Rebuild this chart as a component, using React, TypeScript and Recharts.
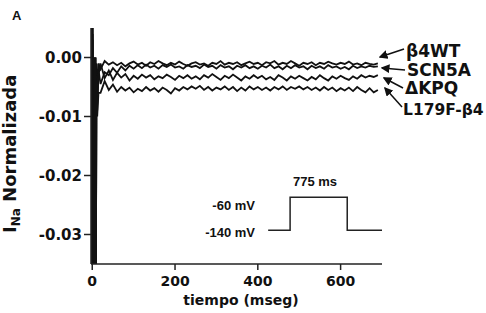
import { Line, LineChart, XAxis, YAxis } from 'recharts';

// sample times in ms (dense around the capacitive transient)
const times = [
  -3, -2, -1, 0, 1, 2, 3, 4, 5, 6, 7, 8, 9, 10, 12, 15,
  20, 30, 40, 50, 60, 70, 80, 90, 100, 110, 120, 130, 140, 150, 160, 170, 180, 190,
  200, 210, 220, 230, 240, 250, 260, 270, 280, 290, 300, 310, 320, 330, 340, 350,
  360, 370, 380, 390, 400, 410, 420, 430, 440, 450, 460, 470, 480, 490, 500, 510,
  520, 530, 540, 550, 560, 570, 580, 590, 600, 610, 620, 630, 640, 650, 660, 670,
  680, 690
];

// normalised current, in units of 1e-3
const beta4WT = [
  5, -36, 5, -36, 5, -36, -36, -36, -36, 0, -36, 0, -36, -1, -9, -1,
  -2.0, -0.6, -1.2, -0.8, -1.3, -0.9, -1.5, -1.0, -0.7, -1.2, -0.9, -1.4, -0.8, -1.1, -0.6, -1.0, -1.3, -0.9,
  -1.2, -0.7, -1.1, -1.4, -1.0, -0.8, -1.2, -1.0, -1.4, -0.9, -1.1, -0.6, -1.2, -0.9, -1.1, -0.8,
  -1.3, -1.0, -0.7, -1.1, -0.9, -1.3, -0.8, -1.0, -0.6, -1.2, -0.9, -1.1, -0.6, -1.0, -1.4, -0.9,
  -1.1, -0.8, -1.3, -0.9, -1.1, -0.7, -1.0, -1.2, -0.9, -1.1, -0.7, -1.2, -1.0, -1.3, -0.9, -1.1,
  -1.2, -1.0
];
const scn5a = [
  5, -36, 4, -36, 5, -36, -36, -36, -36, 0, -36, -1, -36, -2, -8, -2,
  -4.5, -2.5, -3.0, -1.8, -2.6, -1.5, -2.2, -1.4, -1.9, -1.3, -1.8, -1.2, -1.7, -1.4, -1.9, -1.3, -1.6, -1.2,
  -1.7, -1.5, -1.9, -1.3, -1.6, -1.4, -1.8, -1.2, -1.6, -1.4, -1.9, -1.3, -1.7, -1.5, -2.0, -1.4,
  -1.7, -1.3, -1.8, -1.5, -1.9, -1.4, -1.7, -1.2, -1.8, -1.5, -2.0, -1.4, -1.8, -1.3, -1.7, -1.5,
  -2.0, -1.4, -1.8, -1.5, -1.9, -1.3, -1.7, -1.5, -1.9, -1.6, -2.0, -1.4, -1.8, -1.5, -1.7, -1.4,
  -1.6, -1.5
];
const deltaKPQ = [
  4, -36, 5, -36, 4, -36, -36, -36, -36, -1, -36, 0, -36, -3, -7, -3,
  -1.0, -3.5, -2.2, -3.8, -2.6, -3.4, -2.8, -3.9, -3.1, -3.6, -2.9, -3.4, -3.0, -3.7, -3.2, -3.5, -2.9, -3.3,
  -3.8, -3.1, -3.5, -3.0, -3.6, -3.2, -3.7, -3.0, -3.4, -2.8, -3.3, -3.8, -3.1, -3.5, -2.9, -3.4,
  -3.9, -3.2, -3.6, -3.0, -3.5, -3.1, -3.7, -3.3, -3.8, -3.0, -3.4, -3.9, -3.2, -3.6, -3.1, -3.5,
  -3.9, -3.3, -3.7, -3.0, -3.5, -3.9, -3.2, -3.6, -3.1, -3.5, -3.8, -3.2, -3.6, -3.0, -3.4, -3.1,
  -3.3, -3.0
];
const l179f = [
  5, -36, 5, -36, 3, -36, -36, -36, -36, 0, -36, -1, -36, -4, -10, -6,
  -6.0, -4.0, -5.5, -4.6, -5.8, -5.0, -5.6, -5.1, -5.9, -5.3, -5.7, -5.0, -5.6, -5.2, -5.8, -5.1, -5.5, -6.1,
  -5.2, -5.6, -5.0, -5.4, -4.9, -5.3, -4.8, -5.5, -5.0, -5.6, -5.1, -5.4, -4.9, -5.5, -5.0, -5.7,
  -5.1, -5.6, -4.9, -5.4, -5.0, -5.5, -5.1, -5.6, -5.0, -5.4, -4.9, -5.5, -5.0, -5.3, -4.9, -5.4,
  -5.0, -5.5, -5.1, -5.6, -5.0, -5.5, -5.1, -5.7, -5.2, -5.6, -5.1, -5.7, -5.0, -5.5, -5.9, -5.2,
  -5.9, -5.5
];

const traceNames = ['β4WT', 'SCN5A', 'ΔKPQ', 'L179F-β4'];

// voltage protocol shown in the inset
const protocolTimes = [425, 478, 478, 616, 616, 700];
const protocolMv = [-140, -140, -60, -60, -140, -140];

const xTicks = [0, 200, 400, 600];
const yTicks = [0, -0.01, -0.02, -0.03];

const table = times.map((t, i) => ({
  t,
  wt: beta4WT[i] / 1000,
  scn5a: scn5a[i] / 1000,
  kpq: deltaKPQ[i] / 1000,
  l179f: l179f[i] / 1000
}));
const protocol = protocolTimes.map((t, i) => ({ t, mv: protocolMv[i] }));

const bold = { fontFamily: 'DejaVu Sans', fontWeight: 'bold' as const };
const insetFont = { fontFamily: 'Liberation Sans', fontWeight: 'bold' as const, fontSize: 13 };

export default function App() {
  const series = ['wt', 'scn5a', 'kpq', 'l179f'];
  return (
    <div style={{ position: 'absolute', left: 0, top: 0, width: 486, height: 313, background: '#fff' }}>
      <LineChart
        width={486}
        height={313}
        data={table}
        margin={{ top: 28, right: 104, bottom: 0, left: 0 }}
      >
        <XAxis
          dataKey="t"
          type="number"
          domain={[-3, 700]}
          ticks={xTicks}
          allowDataOverflow
          height={49}
          tickSize={6}
          tickMargin={6}
          stroke="#222"
          strokeWidth={1.5}
          tick={{ ...bold, fontSize: 14, fill: '#111' }}
        />
        <YAxis
          domain={[-0.035, 0.005]}
          ticks={yTicks}
          allowDataOverflow
          width={91}
          tickSize={7}
          tickMargin={2}
          stroke="#222"
          strokeWidth={1.5}
          tickFormatter={v => v.toFixed(2)}
          tick={{ ...bold, fontSize: 15, fill: '#111' }}
        />
        <YAxis yAxisId="mv" hide domain={[-222, 350]} />
        {series.map(key => (
          <Line
            key={key}
            dataKey={key}
            type="linear"
            stroke="#111"
            strokeWidth={1.8}
            dot={false}
            isAnimationActive={false}
          />
        ))}
        <Line
          data={protocol}
          dataKey="mv"
          yAxisId="mv"
          type="linear"
          stroke="#222"
          strokeWidth={1.5}
          dot={false}
          isAnimationActive={false}
        />
      </LineChart>
      <svg
        width={486}
        height={313}
        style={{ position: 'absolute', left: 0, top: 0, pointerEvents: 'none' }}
      >
        <defs>
          <marker id="tip" markerWidth="6" markerHeight="6" refX="5" refY="3" orient="auto">
            <path d="M0,0 L6,3 L0,6 z" fill="#111" />
          </marker>
        </defs>
        <text x={12} y={20} fontFamily="Liberation Sans" fontWeight="bold" fontSize={13} fill="#111">A</text>
        <text
          x={16}
          y={233}
          transform="rotate(-90, 16, 233)"
          {...bold}
          fontSize={18}
          fill="#111"
        >
          I<tspan fontSize={12} dy={4}>Na</tspan>
          <tspan dy={-4}> Normalizada</tspan>
        </text>
        <text x={241} y={305} textAnchor="middle" {...bold} fontSize={14} fill="#111">
          tiempo (mseg)
        </text>
        {/* trace labels with arrows */}
        <line x1={404} y1={49} x2={380} y2={57} stroke="#111" strokeWidth={1.5} markerEnd="url(#tip)" />
        <line x1={405} y1={70} x2={382} y2={68} stroke="#111" strokeWidth={1.5} markerEnd="url(#tip)" />
        <line x1={403} y1={88} x2={384} y2={78} stroke="#111" strokeWidth={1.5} markerEnd="url(#tip)" />
        <line x1={402} y1={107} x2={385} y2={88} stroke="#111" strokeWidth={1.5} markerEnd="url(#tip)" />
        <text x={406} y={57} {...bold} fontSize={17} fill="#111">{traceNames[0]}</text>
        <text x={407} y={76} {...bold} fontSize={17} fill="#111">{traceNames[1]}</text>
        <text x={405} y={94} {...bold} fontSize={17} fill="#111">{traceNames[2]}</text>
        <text x={403} y={115} {...bold} fontSize={15.5} fill="#111">{traceNames[3]}</text>
        {/* inset labels */}
        <text x={315} y={186} textAnchor="middle" {...insetFont} fill="#111">775 ms</text>
        <text x={255} y={210} textAnchor="end" {...insetFont} fill="#111">-60 mV</text>
        <text x={255} y={237} textAnchor="end" {...insetFont} fill="#111">-140 mV</text>
      </svg>
    </div>
  );
}
